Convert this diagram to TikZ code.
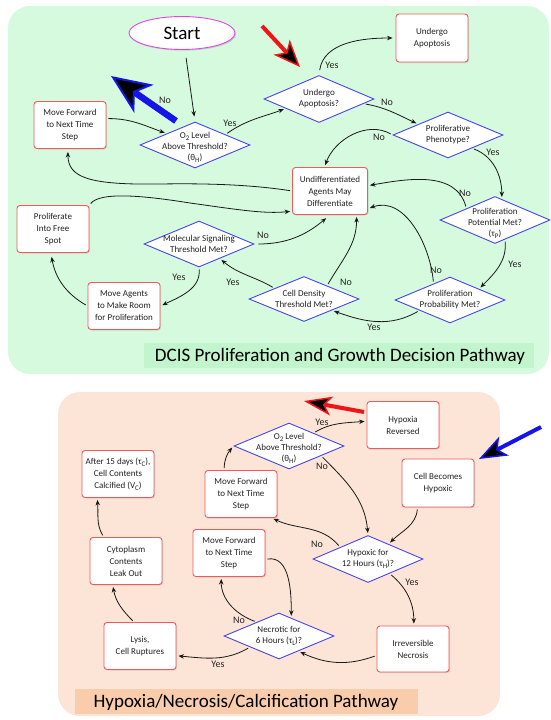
\documentclass[tikz,border=0pt]{standalone}
\usepackage{fontspec}
\setmainfont{Carlito}
\usetikzlibrary{shapes.geometric,arrows.meta,shadows}
\definecolor{greenpanel}{RGB}{214,250,222}
\definecolor{greenbanner}{RGB}{194,244,205}
\definecolor{peachpanel}{RGB}{252,228,214}
\definecolor{peachbanner}{RGB}{249,204,172}
\definecolor{boxred}{RGB}{240,90,90}
\definecolor{diablue}{RGB}{70,70,230}
\definecolor{startmag}{RGB}{225,70,225}
\definecolor{bigblue}{RGB}{20,20,235}
\definecolor{bigred}{RGB}{240,20,20}
\definecolor{txt}{RGB}{35,35,35}
\newcommand{\lowsub}[1]{\raisebox{-0.45ex}{\fontsize{7}{8}\selectfont #1}}
\tikzset{
  box/.style={rectangle, rounded corners=3pt, draw=boxred, fill=white, line width=0.9pt,
    minimum width=72pt, minimum height=47pt, align=center, inner sep=1pt, text=txt,
    font=\fontsize{9}{12}\selectfont,
    drop shadow={shadow xshift=1pt,shadow yshift=-1pt,opacity=0.25}},
  dia/.style={diamond, draw=diablue, fill=white, line width=0.9pt,
    minimum width=110pt, minimum height=46pt, inner sep=0pt},
  dtxt/.style={align=center, inner sep=0pt, text=txt, font=\fontsize{9}{11}\selectfont},
  startnode/.style={ellipse, draw=startmag, fill=white, line width=0.9pt,
    minimum width=106pt, minimum height=33pt, inner sep=0pt, text=black,
    font=\fontsize{19}{20}\selectfont,
    drop shadow={shadow xshift=1.2pt,shadow yshift=-1.2pt,opacity=0.3}},
  lbl/.style={inner sep=0pt, text=txt, font=\fontsize{10}{12}\selectfont},
  conn/.style={draw=black!90, line width=0.8pt, -{Stealth[length=5.5pt,width=4.5pt]},
    shorten >=2pt, shorten <=2pt},
  title/.style={inner sep=0pt, text=black, font=\fontsize{19}{22}\selectfont}
}
\begin{document}
\begin{tikzpicture}[x=1pt,y=1pt]
\useasboundingbox (0,0) rectangle (551,-720);
% panels
\fill[greenpanel, rounded corners=22pt] (8,-6) rectangle (549,-374);
\fill[greenbanner] (144,-343) rectangle (534,-368);
\node[title] (t1) at (340,-356) {DCIS Proliferation and Growth Decision Pathway};
\fill[peachpanel, rounded corners=22pt] (58,-392) rectangle (500,-716);
\fill[peachbanner] (75,-689) rectangle (418,-714);
\node[title] (t2) at (246,-702) {Hypoxia/Necrosis/Calcification Pathway};

% big pointer arrows
\coordinate (bbt) at (176,-121); \coordinate (bbh) at (111,-76);
\coordinate (brt) at (262,-26); \coordinate (brh) at (300,-67);
\coordinate (crt) at (364,-412); \coordinate (crh) at (304,-401);
\coordinate (cbt) at (541,-427); \coordinate (cbh2) at (479,-459);
\draw[bigblue, line width=6.5pt, -{Stealth[length=40pt,width=34pt,inset=11pt,fill=black,line width=2pt]}] (bbt) -- (bbh);
\draw[bigred, line width=4pt, -{Stealth[length=27pt,width=22pt,inset=7pt,fill=black,line width=1.5pt]}] (brt) -- (brh);
\draw[bigred, line width=4pt, -{Stealth[length=28pt,width=19pt,inset=7pt,fill=black,line width=1.5pt]}] (crt) -- (crh);
\draw[bigblue, line width=4pt, -{Stealth[length=28pt,width=21pt,inset=7pt,fill=black,line width=1.5pt]}] (cbt) -- (cbh2);

% ---------- top panel nodes ----------
\node[startnode] (start) at (182,-33) {Start};
\node[box] (mf1) at (70,-125) {Move Forward\\to Next Time\\Step};
\node[dia] (o2a) at (195,-145) {};
\node[dtxt] (o2at) at (195,-147) {O\lowsub{2} Level\\Above Threshold?\\(θ\lowsub{H})};
\node[dia, minimum height=47pt] (uaq) at (319,-99) {};
\node[dtxt] (uaqt) at (319,-99) {Undergo\\Apoptosis?};
\node[box, minimum height=48pt] (uab) at (432,-38) {Undergo\\Apoptosis};
\node[dia] (ppq) at (448,-135) {};
\node[dtxt] (ppqt) at (448,-135) {Proliferative\\Phenotype?};
\node[box, minimum width=75pt] (und) at (330,-191) {Undifferentiated\\Agents May\\Differentiate};
\node[dia, minimum height=47pt] (ppm) at (495,-220) {};
\node[dtxt] (ppmt) at (495,-223) {Proliferation\\Potential Met?\\(τ\lowsub{P})};
\node[dia] (ppp) at (450,-300) {};
\node[dtxt] (pppt) at (450,-300) {Proliferation\\Probability Met?};
\node[dia, minimum height=45pt] (cdt) at (304,-299) {};
\node[dtxt] (cdtt) at (304,-299) {Cell Density\\Threshold Met?};
\node[dia] (msg) at (199,-244) {};
\node[dtxt] (msgt) at (199,-244) {Molecular Signaling\\Threshold Met?};
\node[box] (mam) at (124,-306) {Move Agents\\to Make Room\\for Proliferation};
\node[box] (pfs) at (53,-229) {Proliferate\\Into Free\\Spot};

% ---------- top panel connectors ----------
\draw[conn, shorten <=8pt, shorten >=5pt] (start.-80) -- (o2a.north);
\draw[conn] (mf1.10) to[out=0,in=160] (o2a.158);
\draw[conn] (o2a.19) to[out=35,in=200] (uaq.196);
\draw[conn, shorten <=5pt, shorten >=3pt] (uaq.north) to[out=82,in=180] (uab.west);
\draw[conn] (uaq.-6) to[out=-10,in=155] (ppq.160);
\draw[conn] (ppq.west) to[out=150,in=70] (und.103);
\draw[conn] (ppq.-29) to[out=-20,in=90] (ppm.72);
\draw[conn] (ppm.158) to[out=105,in=10] (und.8);
\draw[conn] (ppm.-63) to[out=-85,in=45] (ppp.21);
\draw[conn] (ppp.135) to[out=95,in=20] (und.-25);
\draw[conn] (ppp.199) to[out=-150,in=-20] (cdt.-22);
\draw[conn] (cdt.30) to[out=60,in=-90] (und.-42);
\draw[conn] (cdt.160) to[out=150,in=-40] (msg.-35);
\draw[conn, shorten <=4pt, shorten >=5pt] (msg.east) to[out=0,in=-140] (und.south);
\draw[conn] (msg.south) to[out=-85,in=25] (mam.east);
\draw[conn, shorten >=4pt] (mam.west) to[out=150,in=-80] (pfs.-95);
\draw[conn] (pfs.north east) .. controls (100,-192) and (140,-195) .. (190,-203)
   .. controls (240,-210) and (265,-214) .. (und.208);
\draw[conn, shorten >=3pt] (und.west) .. controls (260,-186) and (220,-183) .. (160,-184)
   .. controls (90,-185) and (68,-178) .. (mf1.-95);

% ---------- top labels ----------
\node[lbl] (l1) at (165,-100) {No};
\node[lbl] (l2) at (230,-123) {Yes};
\node[lbl] (l3) at (332,-65) {Yes};
\node[lbl] (l4) at (387,-102) {No};
\node[lbl] (l5) at (379,-137) {No};
\node[lbl] (l6) at (493,-152) {Yes};
\node[lbl] (l7) at (465,-193) {No};
\node[lbl] (l8) at (515,-264) {Yes};
\node[lbl] (l9) at (436,-270) {No};
\node[lbl] (l10) at (374,-327) {Yes};
\node[lbl] (l11) at (346,-282) {No};
\node[lbl] (l12) at (233,-282) {Yes};
\node[lbl] (l13) at (263,-235) {No};
\node[lbl] (l14) at (179,-277) {Yes};

% ---------- bottom panel nodes ----------
\node[box] (hr) at (403,-425) {Hypoxia\\Reversed};
\node[box, minimum height=48pt] (cbh) at (438,-483) {Cell Becomes\\Hypoxic};
\node[dia] (o2b) at (289,-446) {};
\node[dtxt] (o2bt) at (289,-448) {O\lowsub{2} Level\\Above Threshold?\\(θ\lowsub{H})};
\node[box] (mfu) at (241,-494) {Move Forward\\to Next Time\\Step};
\node[box] (a15) at (118,-474) {After 15 days (τ\lowsub{C}),\\Cell Contents\\Calcified (V\lowsub{C})};
\node[dia, minimum height=47pt] (h12) at (368,-559) {};
\node[dtxt] (h12t) at (368,-559) {Hypoxic for\\12 Hours (τ\lowsub{H})?};
\node[box] (mfl) at (229,-553) {Move Forward\\to Next Time\\Step};
\node[box] (cyt) at (126,-561) {Cytoplasm\\Contents\\Leak Out};
\node[box] (lys) at (140,-646) {Lysis,\\Cell Ruptures};
\node[dia] (n6) at (279,-636) {};
\node[dtxt] (n6t) at (279,-636) {Necrotic for\\6 Hours (τ\lowsub{L})?};
\node[box, minimum height=46pt] (irn) at (413,-649) {Irreversible\\Necrosis};

% ---------- bottom connectors ----------
\draw[conn] (o2b.28) to[out=30,in=185] (hr.174);
\draw[conn] (o2b.-17) to[out=-45,in=95] (h12.north);
\draw[conn] (cbh.-130) to[out=-95,in=45] (h12.36);
\draw[conn] (h12.157) to[out=130,in=-25] (mfu.-38);
\draw[conn] (h12.-34) to[out=-40,in=90] (irn.88);
\draw[conn] (irn.190) to[out=200,in=-25] (n6.-38);
\draw[conn] (n6.148) to[out=160,in=-90] (mfl.-108);
\draw[conn] (n6.201) to[out=-150,in=-5] (lys.-15);
\draw[conn] (lys.104) to[out=135,in=-80] (cyt.-119);
\draw[conn] (cyt.133) to[out=120,in=-85] (a15.-131);
\draw[conn] (mfl.-10) to[out=10,in=90] (n6.56);
\draw[conn] (mfu.125) to[out=90,in=-130] (o2b.west);

% ---------- bottom labels ----------
\node[lbl] (m1) at (322,-422) {Yes};
\node[lbl] (m2) at (322,-466) {No};
\node[lbl] (m3) at (317,-544) {No};
\node[lbl] (m4) at (412,-582) {Yes};
\node[lbl] (m5) at (239,-620) {No};
\node[lbl] (m6) at (218,-664) {Yes};
\end{tikzpicture}
\end{document}
